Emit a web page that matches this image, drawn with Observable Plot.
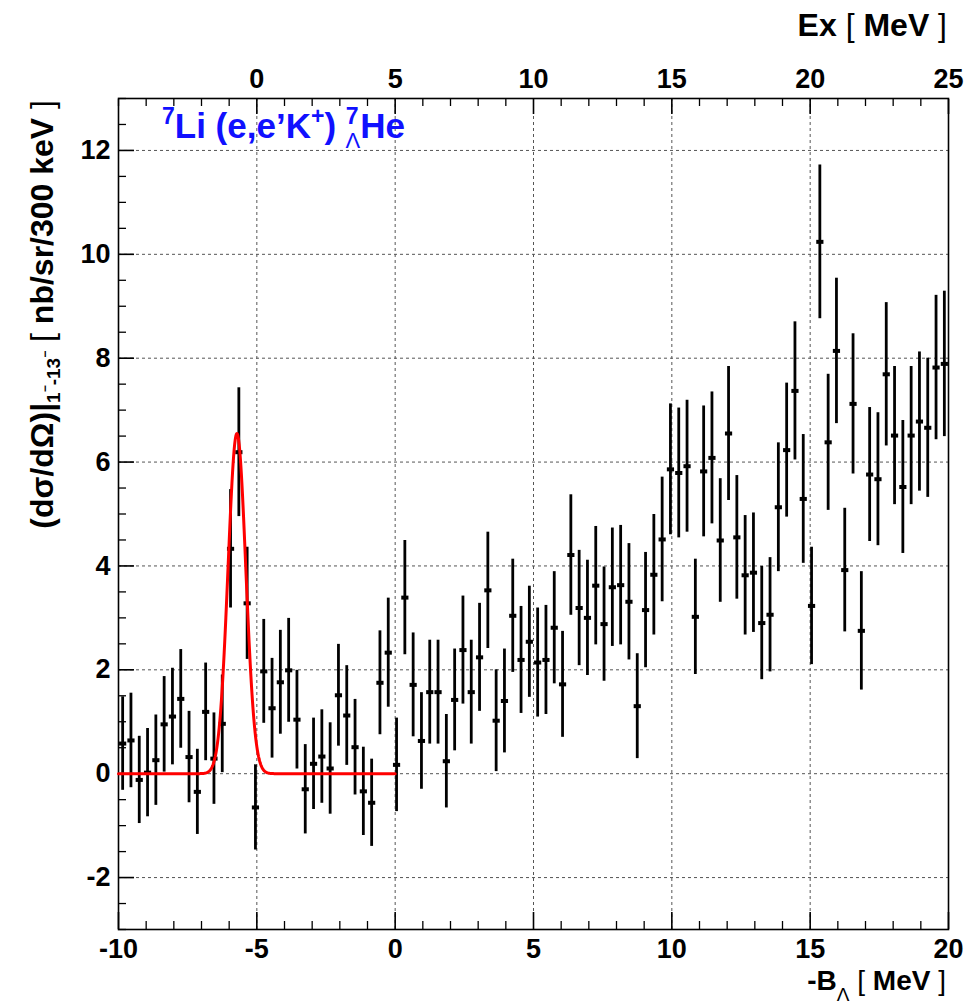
<!DOCTYPE html>
<html>
<head>
<meta charset="utf-8">
<script src="https://cdn.jsdelivr.net/npm/d3@7"></script>
<script src="https://cdn.jsdelivr.net/npm/@observablehq/plot@0.6"></script>
<style>
  html, body { margin: 0; padding: 0; background: #fff; }
  #chart { width: 969px; height: 1007px; }
</style>
</head>
<body>
<div id="chart"></div>
<script>
// -B_Lambda bin centers (MeV), 300 keV bins
const binCenters = [
  -9.85, -9.55, -9.25, -8.95, -8.65, -8.35, -8.05, -7.75, -7.45, -7.15,
  -6.85, -6.55, -6.25, -5.95, -5.65, -5.35, -5.05, -4.75, -4.45, -4.15,
  -3.85, -3.55, -3.25, -2.95, -2.65, -2.35, -2.05, -1.75, -1.45, -1.15,
  -0.85, -0.55, -0.25, 0.05, 0.35, 0.65, 0.95, 1.25, 1.55, 1.85,
  2.15, 2.45, 2.75, 3.05, 3.35, 3.65, 3.95, 4.25, 4.55, 4.85,
  5.15, 5.45, 5.75, 6.05, 6.35, 6.65, 6.95, 7.25, 7.55, 7.85,
  8.15, 8.45, 8.75, 9.05, 9.35, 9.65, 9.95, 10.25, 10.55, 10.85,
  11.15, 11.45, 11.75, 12.05, 12.35, 12.65, 12.95, 13.25, 13.55, 13.85,
  14.15, 14.45, 14.75, 15.05, 15.35, 15.65, 15.95, 16.25, 16.55, 16.85,
  17.15, 17.45, 17.75, 18.05, 18.35, 18.65, 18.95, 19.25, 19.55, 19.85
];
// cross section (nb/sr/300 keV)
const crossSection = [
  0.58, 0.64, -0.12, 0.02, 0.26, 0.95, 1.10, 1.44, 0.32, -0.35,
  1.19, 0.29, 0.96, 4.33, 6.19, 3.28, -0.65, 1.97, 1.26, 1.76,
  1.99, 1.04, -0.30, 0.19, 0.33, 0.10, 1.51, 1.12, 0.51, -0.34,
  -0.56, 1.75, 2.33, 0.17, 3.39, 1.71, 0.63, 1.57, 1.57, 0.24,
  1.42, 2.38, 1.57, 2.24, 3.53, 1.02, 1.40, 3.04, 2.19, 2.54,
  2.14, 2.19, 2.81, 1.72, 4.21, 3.19, 3.00, 3.62, 2.88, 3.59,
  3.63, 3.31, 1.30, 3.15, 3.83, 4.51, 5.86, 5.79, 5.92, 3.02,
  5.82, 6.08, 4.49, 6.55, 4.55, 3.82, 3.87, 2.90, 3.06, 5.13,
  6.23, 7.37, 5.29, 3.23, 10.24, 6.38, 8.14, 3.92, 7.12, 2.75,
  5.76, 5.67, 7.69, 6.51, 5.52, 6.51, 6.78, 6.66, 7.82, 7.89
];
// statistical errors
const errors = [
  0.90, 0.91, 0.84, 0.85, 0.87, 0.92, 0.93, 0.95, 0.88, 0.82,
  0.94, 0.88, 0.94, 1.14, 1.24, 1.08, 0.82, 1.00, 0.96, 1.00,
  1.00, 0.95, 0.86, 0.88, 0.90, 0.88, 0.98, 0.96, 0.92, 0.85,
  0.84, 1.00, 1.05, 0.90, 1.10, 1.00, 0.93, 1.00, 1.00, 0.90,
  0.98, 1.04, 1.00, 1.04, 1.12, 0.98, 1.00, 1.09, 1.03, 1.07,
  1.05, 1.05, 1.08, 1.02, 1.16, 1.11, 1.11, 1.14, 1.10, 1.14,
  1.15, 1.12, 1.01, 1.11, 1.16, 1.20, 1.26, 1.25, 1.27, 1.11,
  1.26, 1.27, 1.19, 1.29, 1.19, 1.15, 1.15, 1.09, 1.10, 1.24,
  1.29, 1.33, 1.24, 1.13, 1.48, 1.31, 1.40, 1.19, 1.35, 1.14,
  1.29, 1.28, 1.38, 1.33, 1.28, 1.33, 1.34, 1.34, 1.39, 1.40
];
// Gaussian fit of the ground-state peak: amplitude, mean, sigma
const fitParams = [6.55, -5.72, 0.32];
const fitRange = [-10, 0];

// axis ticks
const yTicks = [-2, 0, 2, 4, 6, 8, 10, 12];
const xTicks = [-10, -5, 0, 5, 10, 15, 20];
const xGrid = [-5, 0, 5, 10, 15];
const exTickPositions = [-5, 0, 5, 10, 15, 20];   // -B positions of the Ex labels
const exTickLabels = ["0", "5", "10", "15", "20", "25"];

const data = binCenters.map((x, i) => ({x, y: crossSection[i], e: errors[i]}));
const [A, mu, sig] = fitParams;
const fitCurve = d3.range(fitRange[0], fitRange[1] + 1e-9, 0.02)
  .map(x => ({x, y: A * Math.exp(-0.5 * ((x - mu) / sig) ** 2)}));

const yMinor = d3.range(-3, 13.001, 0.5).filter(v => !yTicks.includes(v));
const xMinor = d3.range(-10, 20.001, 1).filter(v => !xTicks.includes(v));
const exMinor = d3.range(-10, 20.001, 1).filter(v => !exTickPositions.includes(v));

const font = '"Liberation Sans", Arial, Helvetica, sans-serif';
const gridStyle = {stroke: "#555", strokeOpacity: 1, strokeWidth: 1, strokeDasharray: "3,3"};

const plot = Plot.plot({
  width: 969,
  height: 1007,
  marginLeft: 118,
  marginRight: 21,
  marginTop: 98,
  marginBottom: 78,
  x: {domain: [-10, 20]},
  y: {domain: [-3, 13]},
  style: {fontFamily: font, fontSize: "27px", fontWeight: "bold", background: "white", color: "black"},
  marks: [
    Plot.gridY(yTicks, gridStyle),
    Plot.gridX(xGrid, gridStyle),
    Plot.frame({stroke: "black", strokeWidth: 1.6}),
    Plot.axisY(yMinor, {anchor: "left", tickSize: -8, tickFormat: () => "", label: null, strokeWidth: 1.3}),
    Plot.axisY(yTicks, {anchor: "left", tickSize: -16, tickPadding: 24, tickFormat: d => String(d), label: null, strokeWidth: 1.6}),
    Plot.axisX(xMinor, {anchor: "bottom", tickSize: -8, tickFormat: () => "", label: null, strokeWidth: 1.3}),
    Plot.axisX(xTicks, {anchor: "bottom", tickSize: -17, tickPadding: 26, tickFormat: d => String(d), label: null, strokeWidth: 1.6}),
    Plot.axisX(exMinor, {anchor: "top", tickSize: -7, tickFormat: () => "", label: null, strokeWidth: 1.3}),
    Plot.axisX(exTickPositions, {anchor: "top", tickSize: -15, tickPadding: 26,
      tickFormat: d => exTickLabels[exTickPositions.indexOf(d)], label: null, strokeWidth: 1.6}),
    Plot.ruleX(data, {x: "x", y1: d => d.y - d.e, y2: d => d.y + d.e, stroke: "black", strokeWidth: 2.8}),
    Plot.link(data, {x1: d => d.x - 0.13, x2: d => d.x + 0.13, y1: "y", y2: "y", stroke: "black", strokeWidth: 4}),
    Plot.line(fitCurve, {x: "x", y: "y", stroke: "#ff0000", strokeWidth: 3})
  ]
});

document.getElementById("chart").appendChild(plot);
const svg = d3.select(plot);

// reaction title
const title = svg.append("text")
  .attr("x", 162).attr("y", 138)
  .attr("text-anchor", "start")
  .attr("fill", "#1010ff")
  .style("font-family", font).style("font-weight", "bold").style("font-size", "35px");
title.append("tspan").attr("dy", -14).style("font-size", "23px").text("7");
title.append("tspan").attr("dy", 14).text("Li (e,e\u2019K");
title.append("tspan").attr("dy", -14).style("font-size", "23px").text("+");
title.append("tspan").attr("dy", 14).text(") ");
title.append("tspan").attr("dy", -14).style("font-size", "23px").text("7");
title.append("tspan").attr("dx", -13).attr("dy", 24).style("font-size", "22px").style("font-weight", "normal").text("\u039B");
title.append("tspan").attr("dy", -10).text("He");

// top axis title
const ex = svg.append("text")
  .attr("x", 947).attr("y", 36).attr("text-anchor", "end")
  .style("font-family", font).style("font-weight", "bold").style("font-size", "32px");
ex.append("tspan").text("Ex ");
ex.append("tspan").style("font-weight", "normal").text("[");
ex.append("tspan").text(" MeV ");
ex.append("tspan").style("font-weight", "normal").text("]");

// bottom axis title
const bl = svg.append("text")
  .attr("x", 946).attr("y", 990).attr("text-anchor", "end")
  .style("font-family", font).style("font-weight", "bold").style("font-size", "28px");
bl.append("tspan").text("-B");
bl.append("tspan").attr("dy", 11).style("font-size", "19px").style("font-weight", "normal").text("\u039B");
bl.append("tspan").attr("dy", -11).text(" ");
bl.append("tspan").style("font-weight", "normal").text("[");
bl.append("tspan").text(" MeV ");
bl.append("tspan").style("font-weight", "normal").text("]");

// y axis title
const yl = svg.append("text")
  .attr("transform", "translate(53,100) rotate(-90)")
  .attr("text-anchor", "end")
  .style("font-family", font).style("font-weight", "bold").style("font-size", "32px");
yl.append("tspan").text("(d\u03C3/d\u03A9)|");
yl.append("tspan").attr("dy", 7).style("font-size", "19px").text("1");
yl.append("tspan").attr("dy", -11).style("font-size", "12px").text("\u2212");
yl.append("tspan").attr("dy", 11).style("font-size", "19px").text("-13");
yl.append("tspan").attr("dy", -11).style("font-size", "12px").text("\u2212");
yl.append("tspan").attr("dy", 4).text(" ");
yl.append("tspan").style("font-weight", "normal").text("[");
yl.append("tspan").text(" nb/sr/300 keV ");
yl.append("tspan").style("font-weight", "normal").text("]");
</script>
</body>
</html>
